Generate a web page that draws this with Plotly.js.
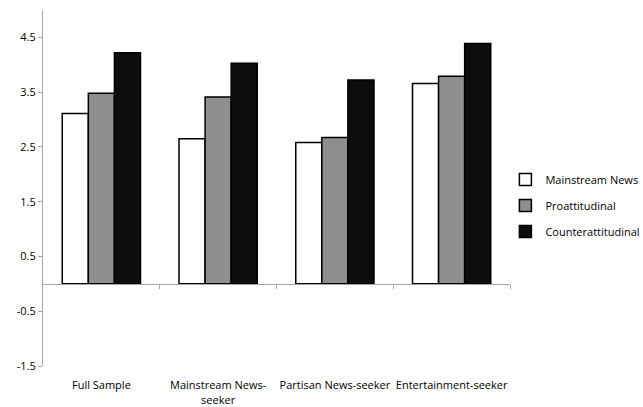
<!DOCTYPE html>
<html>
<head>
<meta charset="utf-8">
<script src="https://cdn.plot.ly/plotly-3.0.1.min.js"></script>
<style>
  html, body { margin: 0; padding: 0; background: #ffffff; }
  #chart { width: 643px; height: 407px; }
</style>
</head>
<body>
<div id="chart"></div>
<script>
// Audience groups along the x axis
const categories = ['Full Sample', 'Mainstream News-<br>seeker', 'Partisan News-seeker', 'Entertainment-seeker'];

// Mean exposure by content type
const mainstreamNews = [3.11, 2.65, 2.58, 3.66];
const proattitudinal = [3.48, 3.41, 2.67, 3.79];
const counterattitudinal = [4.22, 4.03, 3.72, 4.39];

const seriesNames = ['Mainstream News', 'Proattitudinal', 'Counterattitudinal'];
const yTicks = [-1.5, -0.5, 0.5, 1.5, 2.5, 3.5, 4.5];

const yRange = [-1.5, 5.0];
const axisGrey = '#a6a6a6';
const fontFamily = '"Open Sans", "Noto Sans", sans-serif';

function barTrace(name, values, fill, group) {
  return {
    type: 'bar',
    name: name,
    x: [0, 1, 2, 3],
    y: values,
    legendgroup: group,
    marker: { color: fill, line: { color: '#000000', width: 1.5 } },
    hoverinfo: 'skip'
  };
}

const traces = [
  barTrace(seriesNames[0], mainstreamNews, '#ffffff', 'g1'),
  barTrace(seriesNames[1], proattitudinal, '#8f8f8f', 'g2'),
  barTrace(seriesNames[2], counterattitudinal, '#0d0d0d', 'g3')
];

// Extra axis sitting on y = 0 carries the category divider ticks
const zeroPos = (0 - yRange[0]) / (yRange[1] - yRange[0]);
traces.push({
  type: 'scatter', x: [0], y: [0], xaxis: 'x2', yaxis: 'y',
  mode: 'markers', marker: { opacity: 0 }, showlegend: false, hoverinfo: 'skip'
});

const layout = {
  width: 643,
  height: 407,
  margin: { l: 43, r: 133, t: 10, b: 41, autoexpand: false },
  paper_bgcolor: '#ffffff',
  plot_bgcolor: '#ffffff',
  font: { family: fontFamily, size: 11, color: '#000000' },
  barmode: 'group',
  bargap: 0.33,
  bargroupgap: 0,
  showlegend: true,
  legend: {
    xref: 'container', yref: 'container',
    x: 0.786, xanchor: 'left',
    y: 0.495, yanchor: 'middle',
    font: { family: fontFamily, size: 11, color: '#000000' },
    tracegroupgap: 7,
    itemwidth: 30,
    bgcolor: 'rgba(0,0,0,0)'
  },
  xaxis: {
    range: [-0.5, 3.5],
    tickmode: 'array',
    tickvals: [0, 1, 2, 3],
    ticktext: categories,
    tickangle: 0,
    ticks: 'outside',
    ticklen: 9,
    tickcolor: 'rgba(0,0,0,0)',
    showline: false,
    showgrid: false,
    zeroline: false,
    automargin: false,
    tickfont: { family: fontFamily, size: 11, color: '#000000' },
    fixedrange: true
  },
  xaxis2: {
    overlaying: 'x',
    anchor: 'free',
    position: zeroPos,
    range: [-0.5, 3.5],
    tickmode: 'array',
    tickvals: [0.5, 1.5, 2.5, 3.5],
    ticks: 'outside',
    ticklen: 4,
    tickwidth: 1,
    tickcolor: axisGrey,
    showticklabels: false,
    showline: true,
    linecolor: axisGrey,
    linewidth: 1.5,
    showgrid: false,
    zeroline: false,
    fixedrange: true
  },
  yaxis: {
    range: yRange,
    tickmode: 'array',
    tickvals: yTicks,
    ticktext: yTicks.map(v => v.toFixed(1)),
    ticks: 'outside',
    ticklen: 4,
    tickcolor: axisGrey,
    showline: true,
    linecolor: axisGrey,
    linewidth: 1,
    showgrid: false,
    zeroline: false,
    automargin: false,
    tickfont: { family: fontFamily, size: 11, color: '#000000' },
    fixedrange: true
  }
};

Plotly.newPlot('chart', traces, layout, { staticPlot: true, displayModeBar: false });
</script>
</body>
</html>
